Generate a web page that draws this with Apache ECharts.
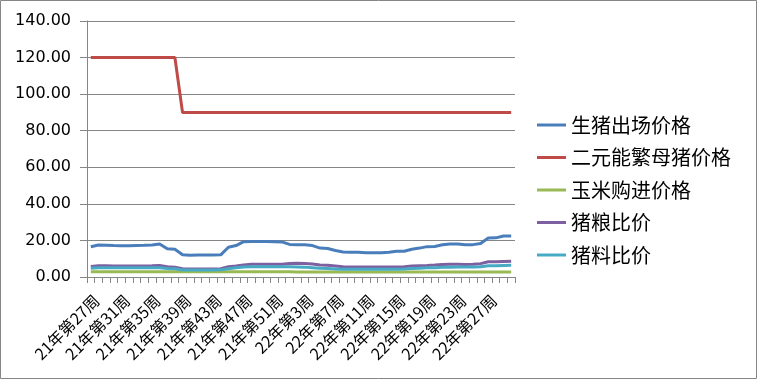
<!DOCTYPE html>
<html><head><meta charset="utf-8">
<script src="https://cdn.jsdelivr.net/npm/echarts@6/dist/echarts.min.js"></script>
<style>html,body{margin:0;padding:0;background:#fff}#c{width:757px;height:379px}</style>
</head><body><div id="c"></div>
<script>
// categories: 21年第27周 .. 21年第52周, 22年第1周 .. 22年第30周
const weeks2021 = [27,28,29,30,31,32,33,34,35,36,37,38,39,40,41,42,43,44,45,46,47,48,49,50,51,52];
const weeks2022 = [1,2,3,4,5,6,7,8,9,10,11,12,13,14,15,16,17,18,19,20,21,22,23,24,25,26,27,28,29,30];
const categories = weeks2021.map(w => '21年第' + w + '周').concat(weeks2022.map(w => '22年第' + w + '周'));

const seriesNames = ['生猪出场价格','二元能繁母猪价格','玉米购进价格','猪粮比价','猪料比价'];

const hogPrice = [16.5,17.5,17.4,17.2,17.1,17.1,17.2,17.3,17.5,18.0,15.4,15.2,12.2,11.9,12.0,12.0,12.0,12.1,16.3,17.2,19.3,19.4,19.4,19.4,19.3,19.2,17.8,17.7,17.6,17.2,15.8,15.6,14.5,13.7,13.6,13.5,13.2,13.3,13.2,13.5,14.1,14.1,15.2,15.8,16.6,16.7,17.6,18.1,18.1,17.6,17.7,18.3,21.3,21.4,22.4,22.4];
const sowPrice = [120,120,120,120,120,120,120,120,120,120,120,120,90,90,90,90,90,90,90,90,90,90,90,90,90,90,90,90,90,90,90,90,90,90,90,90,90,90,90,90,90,90,90,90,90,90,90,90,90,90,90,90,90,90,90,90];
const cornPrice = [2.9,2.9,2.9,2.9,2.9,2.9,2.9,2.9,2.9,2.9,2.9,2.9,2.9,2.9,2.9,2.9,2.9,2.9,2.9,2.9,2.9,2.9,2.9,2.9,2.9,2.9,2.9,2.7,2.7,2.7,2.7,2.7,2.7,2.7,2.7,2.7,2.7,2.7,2.7,2.7,2.7,2.7,2.7,2.7,2.7,2.8,2.8,2.8,2.8,2.8,2.8,2.8,2.8,2.8,2.8,2.8];
const hogGrainRatio = [5.8,6.1,6.1,6.0,6.0,6.0,6.0,6.0,6.1,6.3,5.6,5.3,4.5,4.4,4.4,4.4,4.4,4.5,5.6,6.0,6.6,7.0,7.0,7.0,7.0,7.0,7.4,7.5,7.4,7.1,6.6,6.4,6.0,5.6,5.5,5.5,5.5,5.5,5.5,5.5,5.5,5.6,6.0,6.2,6.3,6.5,6.8,7.0,7.0,6.9,7.0,7.3,8.3,8.3,8.5,8.6];
const hogFeedRatio = [4.8,5.0,5.0,5.0,5.0,5.0,5.0,5.0,5.0,5.0,4.7,4.5,3.8,3.8,3.8,3.8,3.8,3.9,4.5,5.0,5.5,5.6,5.6,5.6,5.6,5.6,5.6,5.5,5.4,5.1,4.8,4.6,4.4,4.2,4.2,4.2,4.2,4.2,4.2,4.2,4.3,4.4,4.6,4.8,5.0,5.1,5.3,5.4,5.5,5.5,5.5,5.6,6.1,6.2,6.3,6.4];

const yTicks = {min: 0, max: 140, interval: 20};
const colors = ['#4A7EBB','#BE4B48','#98B954','#7D60A0','#46AAC5'];
const dataSets = [hogPrice, sowPrice, cornPrice, hogGrainRatio, hogFeedRatio];

const chart = echarts.init(document.getElementById('c'), null, {renderer: 'canvas'});
chart.setOption({
  animation: false,
  backgroundColor: '#fff',
  color: colors,
  graphic: [{type: 'rect', shape: {x: 0.5, y: 0.5, width: 756, height: 378}, style: {fill: 'none', stroke: '#868686', lineWidth: 1}, silent: true}],
  grid: {left: 87, right: 242, top: 21, bottom: 102, containLabel: false},
  legend: {
    orient: 'vertical', left: 532, top: 110,
    icon: 'rect', itemWidth: 29, itemHeight: 3, itemGap: 12.5,
    textStyle: {fontFamily: 'Noto Sans CJK SC', fontSize: 20, color: '#000', lineHeight: 20},
    data: seriesNames
  },
  xAxis: {
    type: 'category', data: categories, boundaryGap: true,
    axisLine: {show: true, lineStyle: {color: '#868686', width: 1}},
    axisTick: {show: true, interval: 0, length: 6, lineStyle: {color: '#868686'}},
    axisLabel: {interval: 3, rotate: 45, margin: 15, align: 'right', verticalAlign: 'top',
      fontFamily: 'Noto Sans CJK SC', fontSize: 16, color: '#000'},
    splitLine: {show: false}
  },
  yAxis: {
    type: 'value', min: yTicks.min, max: yTicks.max, interval: yTicks.interval,
    axisLine: {show: true, lineStyle: {color: '#868686', width: 1}},
    axisTick: {show: true, length: 7, lineStyle: {color: '#868686'}},
    axisLabel: {margin: 16, formatter: v => v.toFixed(2), fontFamily: 'DejaVu Sans', fontSize: 16, color: '#000'},
    splitLine: {show: true, lineStyle: {color: '#868686', width: 1}}
  },
  series: seriesNames.map((n, i) => ({
    name: n, type: 'line', data: dataSets[i], symbol: 'none', showSymbol: false,
    lineStyle: {width: 3, color: colors[i]}, itemStyle: {color: colors[i]}
  }))
});
</script></body></html>
